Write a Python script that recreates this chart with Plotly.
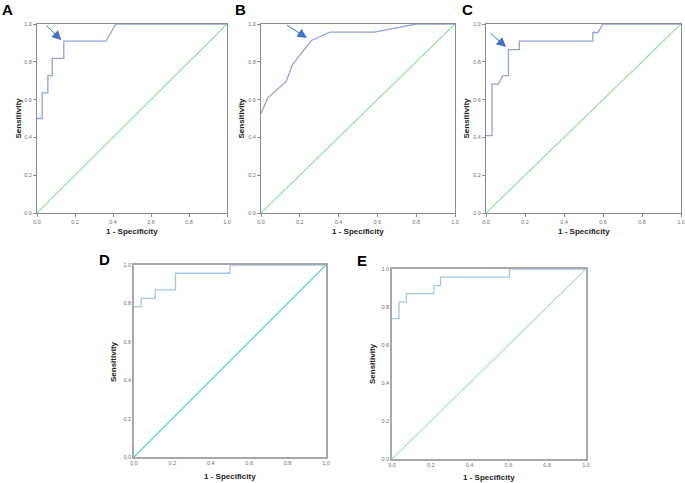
import plotly.graph_objects as go

# ---- data ----
panel_labels = ["A", "B", "C", "D", "E"]
tick_vals = [0.0, 0.2, 0.4, 0.6, 0.8, 1.0]
tick_text = ["0.0", "0.2", "0.4", "0.6", "0.8", "1.0"]

a_fpr = [0.0, 0.027, 0.027, 0.057, 0.057, 0.08, 0.08, 0.141, 0.141, 0.363, 0.415, 1.0]
a_tpr = [0.5, 0.5, 0.636, 0.636, 0.727, 0.727, 0.818, 0.818, 0.909, 0.909, 1.0, 1.0]

b_fpr = [0.0, 0.034, 0.129, 0.163, 0.26, 0.355, 0.583, 0.8, 1.0]
b_tpr = [0.526, 0.608, 0.695, 0.787, 0.913, 0.957, 0.957, 1.0, 1.0]

c_fpr = [0.0, 0.031, 0.031, 0.063, 0.086, 0.115, 0.115, 0.171, 0.171, 0.548, 0.548, 0.574, 0.6, 1.0]
c_tpr = [0.409, 0.409, 0.682, 0.682, 0.727, 0.727, 0.864, 0.864, 0.909, 0.909, 0.955, 0.955, 1.0, 1.0]

d_fpr = [0.0, 0.038, 0.038, 0.111, 0.111, 0.216, 0.216, 0.5, 0.5, 1.0]
d_tpr = [0.783, 0.783, 0.826, 0.826, 0.870, 0.870, 0.957, 0.957, 1.0, 1.0]

e_fpr = [0.0, 0.036, 0.036, 0.074, 0.074, 0.216, 0.216, 0.25, 0.25, 0.605, 0.605, 1.0]
e_tpr = [0.739, 0.739, 0.826, 0.826, 0.870, 0.870, 0.913, 0.913, 0.957, 0.957, 1.0, 1.0]

ref_line = [0.0, 1.0]

# arrows: (tail_x, tail_y, head_x, head_y)
a_arrow = [0.04, 1.0, 0.129, 0.914]
b_arrow = [0.125, 1.0, 0.237, 0.926]
c_arrow = [0.015, 0.958, 0.103, 0.878]

# ---- layout geometry (pixels) ----
W, H = 685, 483
boxes = [  # x0, x1, y0(top), y1(bottom)
    (37, 227, 24, 213),
    (261, 455, 24, 213),
    (486, 681, 24, 213),
    (134, 326, 265, 457),
    (392, 586, 269, 459),
]
curves = [(a_fpr, a_tpr), (b_fpr, b_tpr), (c_fpr, c_tpr), (d_fpr, d_tpr), (e_fpr, e_tpr)]
curve_colors = ["#93a2dc", "#93a2dc", "#93a2dc", "#a2c6ee", "#a2c6ee"]
diag_colors = ["#86de98", "#86de98", "#86de98", "#3ec8c8", "#a4e2c8"]
frame_colors = ["#8a8a8a", "#8a8a8a", "#8a8a8a", "#a8a8a8", "#a8a8a8"]
frame_widths = [1, 1, 1, 1.5, 1.5]
arrows = [a_arrow, b_arrow, c_arrow, None, None]
letter_pos = [(7, 9), (240, 9), (467, 9), (104, 259), (362, 260)]
xtitle_y = [231, 231, 231, 476, 477]
ytitle_x = [18, 241, 466, 113, 372]

fig = go.Figure()
layout = dict(width=W, height=H, margin=dict(l=0, r=0, t=0, b=0, autoexpand=False),
              paper_bgcolor="white", plot_bgcolor="white", showlegend=False,
              font=dict(family="Arial, Liberation Sans, sans-serif"))
annotations = []

for i, ((fx, ty), (x0, x1, yt, yb)) in enumerate(zip(curves, boxes)):
    n = "" if i == 0 else str(i + 1)
    xa, ya = "x" + n, "y" + n
    fig.add_trace(go.Scatter(x=ref_line, y=ref_line, mode="lines", xaxis=xa, yaxis=ya,
                             line=dict(color=diag_colors[i], width=1.1), hoverinfo="skip"))
    fig.add_trace(go.Scatter(x=fx, y=ty, mode="lines", xaxis=xa, yaxis=ya,
                             line=dict(color=curve_colors[i], width=1.3)))
    has_ticks = i < 3
    common = dict(range=[0, 1], tickvals=tick_vals, ticktext=tick_text,
                  showgrid=False, zeroline=False, showline=True, mirror=True,
                  linecolor=frame_colors[i], linewidth=frame_widths[i],
                  ticks="outside" if has_ticks else "", ticklen=3 if has_ticks else 0,
                  tickcolor=frame_colors[i], automargin=False, layer="above traces",
                  tickfont=dict(size=5.5, color="#707070"), fixedrange=True)
    layout["xaxis" + n] = dict(common, domain=[x0 / W, x1 / W], anchor=ya)
    layout["yaxis" + n] = dict(common, domain=[1 - yb / H, 1 - yt / H], anchor=xa)

    # panel letter
    lx, ly = letter_pos[i]
    annotations.append(dict(x=lx / W, y=1 - ly / H, xref="paper", yref="paper",
                            text="<b>%s</b>" % panel_labels[i], showarrow=False,
                            font=dict(size=15, color="black"), xanchor="center", yanchor="middle"))
    # axis titles
    annotations.append(dict(x=(x0 + x1) / 2 / W, y=1 - xtitle_y[i] / H, xref="paper", yref="paper",
                            text="<b>1 - Specificity</b>", showarrow=False,
                            font=dict(size=8, color="#222222"), xanchor="center", yanchor="middle"))
    annotations.append(dict(x=ytitle_x[i] / W, y=1 - (yt + yb) / 2 / H, xref="paper", yref="paper",
                            text="<b>Sensitivity</b>", showarrow=False, textangle=-90,
                            font=dict(size=8, color="#222222"), xanchor="center", yanchor="middle"))
    if arrows[i] is not None:
        tx, tyy, hx, hy = arrows[i]
        annotations.append(dict(x=hx, y=hy, ax=tx, ay=tyy, xref=xa, yref=ya, axref=xa, ayref=ya,
                                text="", showarrow=True, arrowhead=2, arrowsize=1.9,
                                arrowwidth=1, arrowcolor="#4472c4"))

layout["annotations"] = annotations
fig.update_layout(**layout)
fig.write_html("out.html", config={"displayModeBar": False},
               post_script="document.body.style.margin='0';document.body.style.overflow='hidden';")
